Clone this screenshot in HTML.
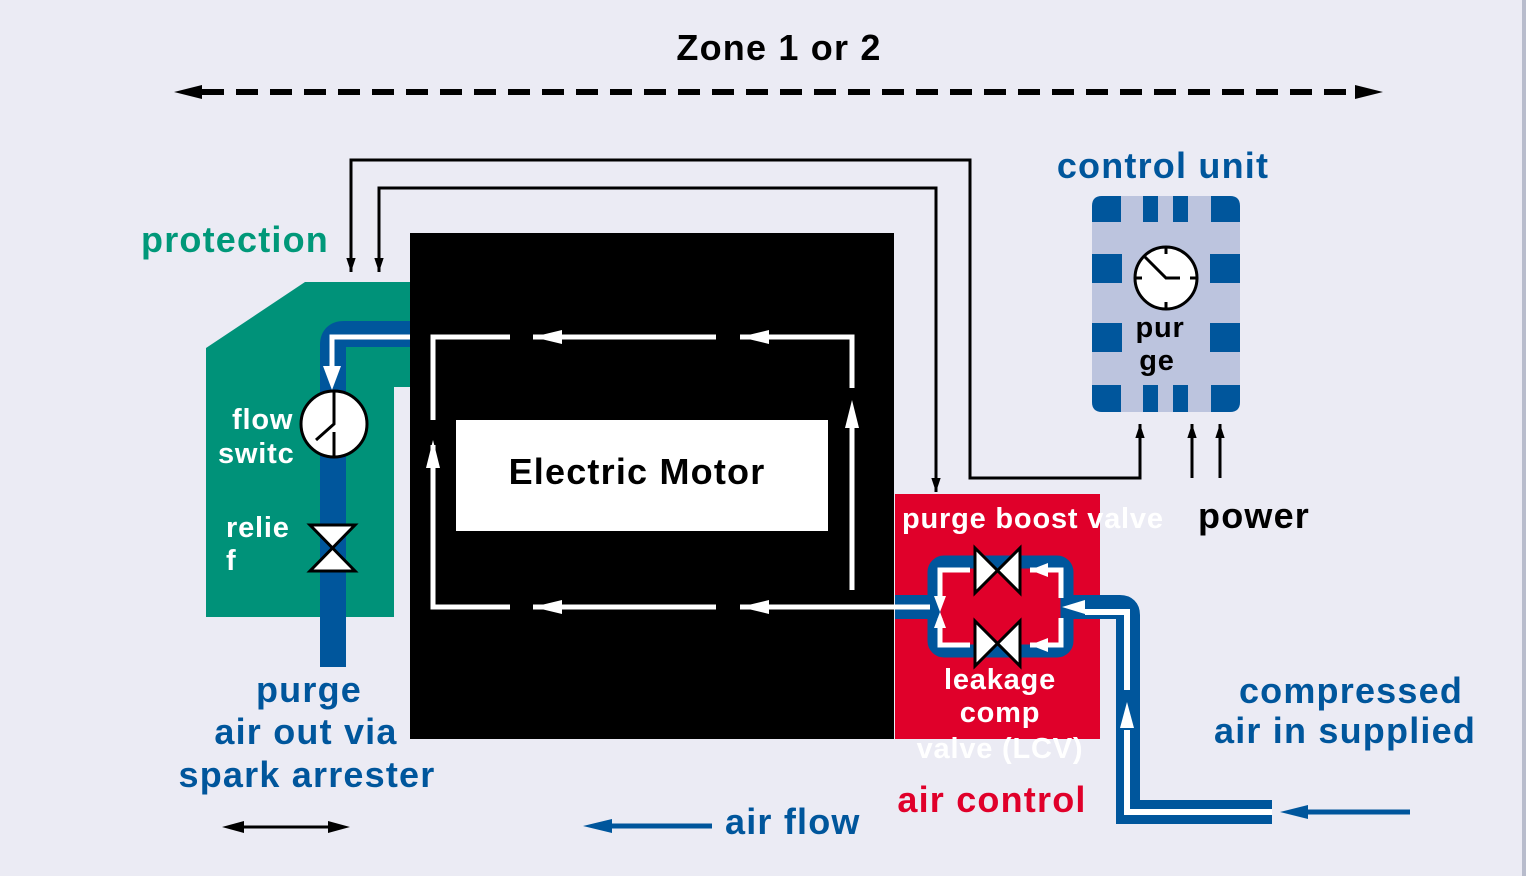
<!DOCTYPE html>
<html><head><meta charset="utf-8"><style>
html,body{margin:0;padding:0;background:#ebebf4;}
svg{display:block;font-family:"Liberation Sans",sans-serif;font-weight:bold;}
.b{letter-spacing:1.2px}
.m{letter-spacing:0.8px}
</style></head><body>
<svg width="1526" height="876" viewBox="0 0 1526 876" xmlns="http://www.w3.org/2000/svg">
<defs>
<marker id="ab" markerWidth="14" markerHeight="20" refX="18" refY="7" orient="auto" markerUnits="userSpaceOnUse" viewBox="0 0 18 14"><path d="M0,1 L18,7 L0,13 z" fill="#000"/></marker>
</defs>
<rect width="1526" height="876" fill="#ebebf4"/>
<rect x="1522" y="0" width="4" height="876" fill="#b8bccc"/>

<text x="779" y="60" font-size="36" text-anchor="middle" fill="#000" class="b">Zone 1 or 2</text>
<line x1="202" y1="92" x2="1358" y2="92" stroke="#000" stroke-width="6" stroke-dasharray="22,12"/>
<path d="M174,92 L202,85 L202,99 z" fill="#000"/>
<path d="M1383,92 L1355,85 L1355,99 z" fill="#000"/>

<text x="141" y="252" font-size="36" fill="#009879" class="b">protection</text>
<polygon points="206,348 305,282 410,282 410,387 394,387 394,617 206,617" fill="#009279"/>
<path d="M333,667 L333,345 Q333,334 344,334 L410,334" fill="none" stroke="#00569c" stroke-width="26"/>
<path d="M433,337 L332,337 L332,375" fill="none" stroke="#fff" stroke-width="5"/>
<path d="M323,366 L341,366 L332,390 z" fill="#fff"/>
<circle cx="334" cy="424" r="33" fill="#fff" stroke="#000" stroke-width="3"/>
<path d="M334,392 L334,424 L316,440 M334,432 L334,456" stroke="#000" stroke-width="3" fill="none"/>
<path d="M310,525 L355,525 L310,571 L355,571 z" fill="#fff" stroke="#000" stroke-width="3"/>
<text x="232" y="429" font-size="29" fill="#fff" class="m">flow</text>
<text x="218" y="463" font-size="29" fill="#fff" class="m">switc</text>
<text x="226" y="537" font-size="29" fill="#fff" class="m">relie</text>
<text x="226" y="570" font-size="29" fill="#fff">f</text>

<rect x="410" y="233" width="484" height="506" fill="#000"/>
<rect x="456" y="420" width="372" height="111" fill="#fff"/>
<text x="637" y="484" font-size="36" text-anchor="middle" fill="#000" class="b">Electric Motor</text>
<g stroke="#fff" stroke-width="5" fill="none">
<path d="M433,420 L433,337 L510,337"/>
<path d="M533,337 L716,337"/>
<path d="M740,337 L852,337 L852,388"/>
<path d="M852,410 L852,590"/>
<path d="M433,445 L433,607 L510,607"/>
<path d="M533,607 L716,607"/>
<path d="M740,607 L895,607"/>
</g>
<g fill="#fff">
<path d="M533,337 L562,330 L562,344 z"/>
<path d="M740,337 L769,330 L769,344 z"/>
<path d="M533,607 L562,600 L562,614 z"/>
<path d="M740,607 L769,600 L769,614 z"/>
<path d="M852,400 L845,428 L859,428 z"/>
<path d="M433,440 L426,468 L440,468 z"/>
</g>

<path d="M351,272 L351,160 L970,160 L970,478 L1140,478 L1140,424" fill="none" stroke="#000" stroke-width="3" marker-end="url(#ab)"/>
<path d="M351,250 L351,272" fill="none" stroke="#000" stroke-width="3" marker-end="url(#ab)"/>
<path d="M379,272 L379,188 L936,188 L936,492" fill="none" stroke="#000" stroke-width="3" marker-end="url(#ab)"/>
<path d="M379,250 L379,272" fill="none" stroke="#000" stroke-width="3" marker-end="url(#ab)"/>
<path d="M1192,478 L1192,424" fill="none" stroke="#000" stroke-width="3" marker-end="url(#ab)"/>
<path d="M1220,478 L1220,424" fill="none" stroke="#000" stroke-width="3" marker-end="url(#ab)"/>

<text x="1163" y="178" font-size="36" text-anchor="middle" fill="#00569c" class="b">control unit</text>
<rect x="1092" y="196" width="148" height="216" rx="10" fill="#bcc4de"/>
<g fill="#00569c">
<path d="M1092,222 L1092,206 Q1092,196 1102,196 L1121,196 L1121,222 z"/>
<rect x="1143" y="196" width="15" height="26"/><rect x="1173" y="196" width="15" height="26"/>
<path d="M1211,196 L1230,196 Q1240,196 1240,206 L1240,222 L1211,222 z"/>
<rect x="1092" y="254" width="30" height="29"/><rect x="1210" y="254" width="30" height="29"/>
<rect x="1092" y="323" width="30" height="29"/><rect x="1210" y="323" width="30" height="29"/>
<path d="M1092,385 L1121,385 L1121,412 L1102,412 Q1092,412 1092,402 z"/>
<rect x="1143" y="385" width="15" height="27"/><rect x="1173" y="385" width="15" height="27"/>
<path d="M1211,385 L1240,385 L1240,402 Q1240,412 1230,412 L1211,412 z"/>
</g>
<circle cx="1166" cy="278" r="31" fill="#fff" stroke="#000" stroke-width="3"/>
<path d="M1166,247 L1166,254 M1166,302 L1166,309 M1135,278 L1142,278 M1190,278 L1197,278 M1145,257 L1166,278 L1180,278" stroke="#000" stroke-width="3" fill="none"/>
<text x="1160" y="337" font-size="29" text-anchor="middle" fill="#000" class="m">pur</text>
<text x="1157" y="370" font-size="29" text-anchor="middle" fill="#000" class="m">ge</text>

<rect x="895" y="494" width="205" height="245" fill="#e0002a"/>
<path d="M895,607 L935,607" stroke="#00569c" stroke-width="24"/>
<path d="M1272,812 L1128,812 L1128,615 Q1128,607 1120,607 L1070,607" fill="none" stroke="#00569c" stroke-width="24"/>
<rect x="934" y="562" width="133" height="89" rx="10" fill="none" stroke="#00569c" stroke-width="13"/>
<path d="M1272,812 L1127,812 L1127,730" fill="none" stroke="#fff" stroke-width="6"/>
<path d="M1127,690 L1127,612 L1085,612" fill="none" stroke="#fff" stroke-width="6"/>
<path d="M1127,702 L1120,728 L1134,728 z" fill="#fff"/>
<path d="M1062,607 L1085,600 L1085,614 z" fill="#fff"/>
<path d="M895,607 L930,607" stroke="#fff" stroke-width="5"/>
<g stroke="#fff" stroke-width="5" fill="none">
<path d="M970,570 L940,570 L940,600"/><path d="M940,618 L940,645 L970,645"/>
<path d="M1030,570 L1061,570 L1061,598"/><path d="M1030,645 L1061,645 L1061,618"/>
</g>
<g fill="#fff">
<path d="M1030,570 L1048,563 L1048,577 z"/><path d="M1030,645 L1048,638 L1048,652 z"/>
<path d="M940,612 L934,596 L946,596 z"/><path d="M940,612 L934,628 L946,628 z"/>
</g>
<path d="M975,548 L1020,593 L1020,548 L975,593 z" fill="#fff" stroke="#000" stroke-width="3"/>
<path d="M975,621 L1020,666 L1020,621 L975,666 z" fill="#fff" stroke="#000" stroke-width="3"/>
<text x="902" y="528" font-size="29" fill="#fff" class="m">purge boost valve</text>
<text x="1000" y="689" font-size="29" text-anchor="middle" fill="#fff" class="m">leakage</text>
<text x="1000" y="722" font-size="29" text-anchor="middle" fill="#fff" class="m">comp</text>
<text x="1000" y="758" font-size="29" text-anchor="middle" fill="#fff" class="m">valve (LCV)</text>
<text x="992" y="812" font-size="36" text-anchor="middle" fill="#e0002a" class="b">air control</text>
<text x="1198" y="528" font-size="36" fill="#000" class="b">power</text>

<line x1="1300" y1="812" x2="1410" y2="812" stroke="#00569c" stroke-width="5"/>
<path d="M1280,812 L1308,805 L1308,819 z" fill="#00569c"/>
<text x="1351" y="703" font-size="36" text-anchor="middle" fill="#00569c" class="b">compressed</text>
<text x="1345" y="743" font-size="36" text-anchor="middle" fill="#00569c" class="b">air in supplied</text>

<text x="309" y="702" font-size="36" text-anchor="middle" fill="#00569c" class="b">purge</text>
<text x="306" y="744" font-size="36" text-anchor="middle" fill="#00569c" class="b">air out via</text>
<text x="307" y="787" font-size="36" text-anchor="middle" fill="#00569c" class="b">spark arrester</text>
<line x1="240" y1="827" x2="333" y2="827" stroke="#000" stroke-width="3"/>
<path d="M222,827 L244,821 L244,833 z" fill="#000"/><path d="M350,827 L328,821 L328,833 z" fill="#000"/>

<line x1="605" y1="826" x2="712" y2="826" stroke="#00569c" stroke-width="5"/>
<path d="M583,826 L612,819 L612,833 z" fill="#00569c"/>
<text x="725" y="834" font-size="36" fill="#00569c" class="b">air flow</text>
</svg>
</body></html>
